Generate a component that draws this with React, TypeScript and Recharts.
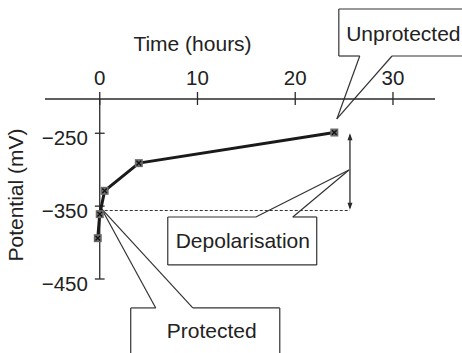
import { Label, Line, LineChart, ReferenceDot, ReferenceLine, XAxis, YAxis } from 'recharts'

// readings: time after switch-off (hours) vs potential (mV)
const hours = [-0.2, 0, 0.5, 4, 24]
const potential = [-394, -361, -329, -291, -249]

const xTicks = [0, 10, 20, 30]
const yTicks = [-250, -350, -450]
const xDomain = [-5.6, 34.3]
const yDomain = [-450, -203]

const protectedLevel = -356
const arrowTime = 25.6
const arrowTop = -250

type Callout = {
  text: string
  x1: number
  x2: number
  yTop: number
  yBottom: number
  side: 'top' | 'bottom'
  base: [number, number]
  tip: [number, number]
  textAt: [number, number]
}

const callouts: Callout[] = [
  { text: 'Unprotected', x1: 24.46, x2: 37.9, yTop: -79.5, yBottom: -144, side: 'bottom',
    base: [26.6, 29.9], tip: [24.26, -230.4], textAt: [31.06, -113.8] },
  { text: 'Depolarisation', x1: 6.96, x2: 22.2, yTop: -364.9, yBottom: -430.7, side: 'top',
    base: [15.97, 19.75], tip: [25.5, -300.4], textAt: [14.64, -397.8] },
  { text: 'Protected', x1: 3.17, x2: 18.42, yTop: -489.7, yBottom: -600, side: 'top',
    base: [5.73, 9.52], tip: [0.2, -353.9], textAt: [11.46, -521.2] },
]

const data = hours.map((h, i) => ({ hours: h, mv: potential[i] }))

const FONT = '"Liberation Sans", Arial, Helvetica, sans-serif'
const INK = '#2a2a2a'

const fmt = (v: number) => (v < 0 ? '\u2212' + Math.abs(v) : String(v))

const XTick = ({ x, y, payload }: any) => (
  <g>
    <line x1={x} x2={x} y1={y - 7} y2={y + 6} stroke={INK} strokeWidth={1.3} />
    <text x={x} y={y - 14} textAnchor="middle" fontSize={20.5} fontFamily={FONT} fill="#222">
      {payload.value}
    </text>
  </g>
)

const Marker = ({ cx, cy }: any) => {
  if (cx == null || cy == null) return null
  return (
    <g>
      <rect x={cx - 4} y={cy - 4} width={8} height={8} fill="#6b6b6b" />
      <path
        d={`M${cx - 2.3},${cy - 2.3}L${cx + 2.3},${cy + 2.3}M${cx + 2.3},${cy - 2.3}L${cx - 2.3},${cy + 2.3}`}
        stroke="#111"
        strokeWidth={1.3}
      />
    </g>
  )
}

const DoubleArrow = (p: any) => {
  const { x1, y1, y2 } = p
  const top = Math.min(y1, y2)
  const bot = Math.max(y1, y2)
  return (
    <g>
      <line x1={x1} x2={x1} y1={top + 2} y2={bot - 2} stroke={INK} strokeWidth={1.3} />
      <path d={`M${x1 - 2.5},${top + 7}L${x1},${top}L${x1 + 2.5},${top + 7}Z`} fill={INK} />
      <path d={`M${x1 - 2.5},${bot - 7}L${x1},${bot}L${x1 + 2.5},${bot - 7}Z`} fill={INK} />
    </g>
  )
}

function calloutSegments(c: Callout) {
  const near = c.side === 'top' ? c.yTop : c.yBottom
  const far = c.side === 'top' ? c.yBottom : c.yTop
  return [
    [{ x: c.x1, y: c.yTop }, { x: c.x1, y: c.yBottom }],
    [{ x: c.x2, y: c.yTop }, { x: c.x2, y: c.yBottom }],
    [{ x: c.x1, y: far }, { x: c.x2, y: far }],
    [{ x: c.x1, y: near }, { x: c.base[0], y: near }],
    [{ x: c.base[1], y: near }, { x: c.x2, y: near }],
    [{ x: c.base[0], y: near }, { x: c.tip[0], y: c.tip[1] }],
    [{ x: c.base[1], y: near }, { x: c.tip[0], y: c.tip[1] }],
  ]
}

const App = () => {
  return (
    <div style={{ position: 'absolute', left: 0, top: 0 }}>
      <LineChart width={462} height={353} data={data} margin={{ top: 0, right: 27, bottom: 74, left: 0 }}>
        <XAxis
          dataKey="hours"
          type="number"
          orientation="top"
          domain={xDomain}
          ticks={xTicks}
          allowDataOverflow
          height={99}
          tickSize={0}
          tickMargin={0}
          tickLine={false}
          tick={<XTick />}
          stroke={INK}
          strokeWidth={1.3}
        >
          <Label
            content={({ viewBox }: any) => (
              <text x={viewBox.x + 147.5} y={viewBox.y + 50.5} textAnchor="middle" fontSize={21} fontFamily={FONT} fill="#222">
                Time (hours)
              </text>
            )}
          />
        </XAxis>
        <YAxis
          type="number"
          domain={yDomain}
          allowDataOverflow
          width={45}
          tick={false}
          tickLine={false}
          axisLine={false}
        >
          <Label
            content={({ viewBox }: any) => (
              <text
                transform={`translate(${viewBox.x + 23}, ${viewBox.y + 96}) rotate(-90)`}
                textAnchor="middle"
                fontSize={21}
                fontFamily={FONT}
                fill="#222"
              >
                Potential (mV)
              </text>
            )}
          />
        </YAxis>

        {/* y axis drawn through time zero */}
        <ReferenceLine x={0} stroke={INK} strokeWidth={1.3} ifOverflow="visible" />
        {yTicks.map((v) => (
          <ReferenceLine
            key={'yt' + v}
            segment={[{ x: -0.5, y: v }, { x: 0.5, y: v }]}
            stroke={INK}
            strokeWidth={1.3}
            ifOverflow="visible"
            label={({ viewBox }: any) => (
              <text x={viewBox.x - 7} y={viewBox.y + 11.5} textAnchor="end" fontSize={20.5} fontFamily={FONT} fill="#222">
                {fmt(v)}
              </text>
            )}
          />
        ))}

        <ReferenceLine
          segment={[{ x: 0, y: protectedLevel }, { x: arrowTime, y: protectedLevel }]}
          stroke="#333"
          strokeWidth={1}
          strokeDasharray="3 2"
          ifOverflow="visible"
        />
        <ReferenceLine
          segment={[{ x: arrowTime, y: arrowTop }, { x: arrowTime, y: protectedLevel + 1 }]}
          ifOverflow="visible"
          shape={DoubleArrow}
        />

        {callouts.map((c) =>
          calloutSegments(c).map((s, i) => (
            <ReferenceLine
              key={c.text + i}
              segment={s}
              stroke="#333"
              strokeWidth={1.2}
              ifOverflow="visible"
            />
          ))
        )}
        {callouts.map((c) => (
          <ReferenceDot
            key={'t' + c.text}
            x={c.textAt[0]}
            y={c.textAt[1]}
            r={0}
            stroke="none"
            fill="none"
            ifOverflow="visible"
            label={{ value: c.text, position: 'center', fontSize: 21, fontFamily: FONT, fill: '#222' }}
          />
        ))}

        <Line
          dataKey="mv"
          stroke="#1a1a1a"
          strokeWidth={3}
          dot={(p: any) => <Marker key={p.index} {...p} />}
          activeDot={false}
          isAnimationActive={false}
        />
      </LineChart>
    </div>
  )
}

export default App
